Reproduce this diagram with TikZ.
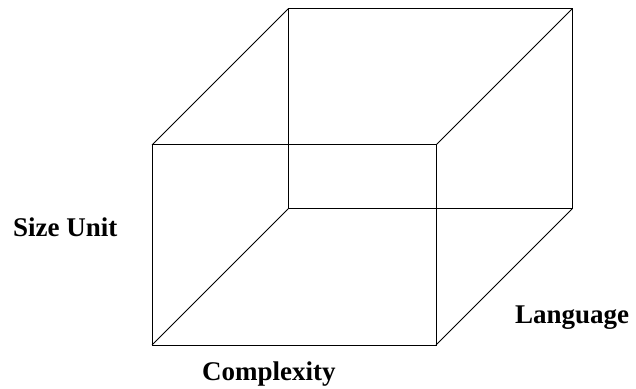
\documentclass[tikz,border=0pt]{standalone}
\usepackage{fontspec}
\setmainfont{Liberation Serif}
\usepackage{tikz}
\usetikzlibrary{positioning}
\tikzset{
  edge/.style={draw=black, line width=1pt},
  axislabel/.style={font=\fontsize{27}{32}\selectfont\bfseries, inner sep=0pt, anchor=base west},
}

\begin{document}
\begin{tikzpicture}[x=1pt, y=1pt]
\useasboundingbox (0,0) rectangle (636,388);
% front face
\coordinate (fa) at (152,243); \coordinate (fb) at (436,243);
\coordinate (fc) at (436,43);  \coordinate (fd) at (152,43);
% back face
\coordinate (ba) at (288,379); \coordinate (bb) at (572,379);
\coordinate (bc) at (572,179); \coordinate (bd) at (288,179);
\draw[edge] (ba) -- (bb) -- (bc) -- (bd) -- cycle;
\draw[edge] (fa) -- (fb) -- (fc) -- (fd) -- cycle;
\draw[edge] (fa) -- (ba);
\draw[edge] (fb) -- (bb);
\draw[edge] (fc) -- (bc);
\draw[edge] (fd) -- (bd);
% axis names
\node[axislabel] (size) at (13,151) {Size Unit};
\node[axislabel] (lang) at (515,65) {Language};
\node[axislabel] (cplx) at (202,8) {Complexity};
\end{tikzpicture}
\end{document}
